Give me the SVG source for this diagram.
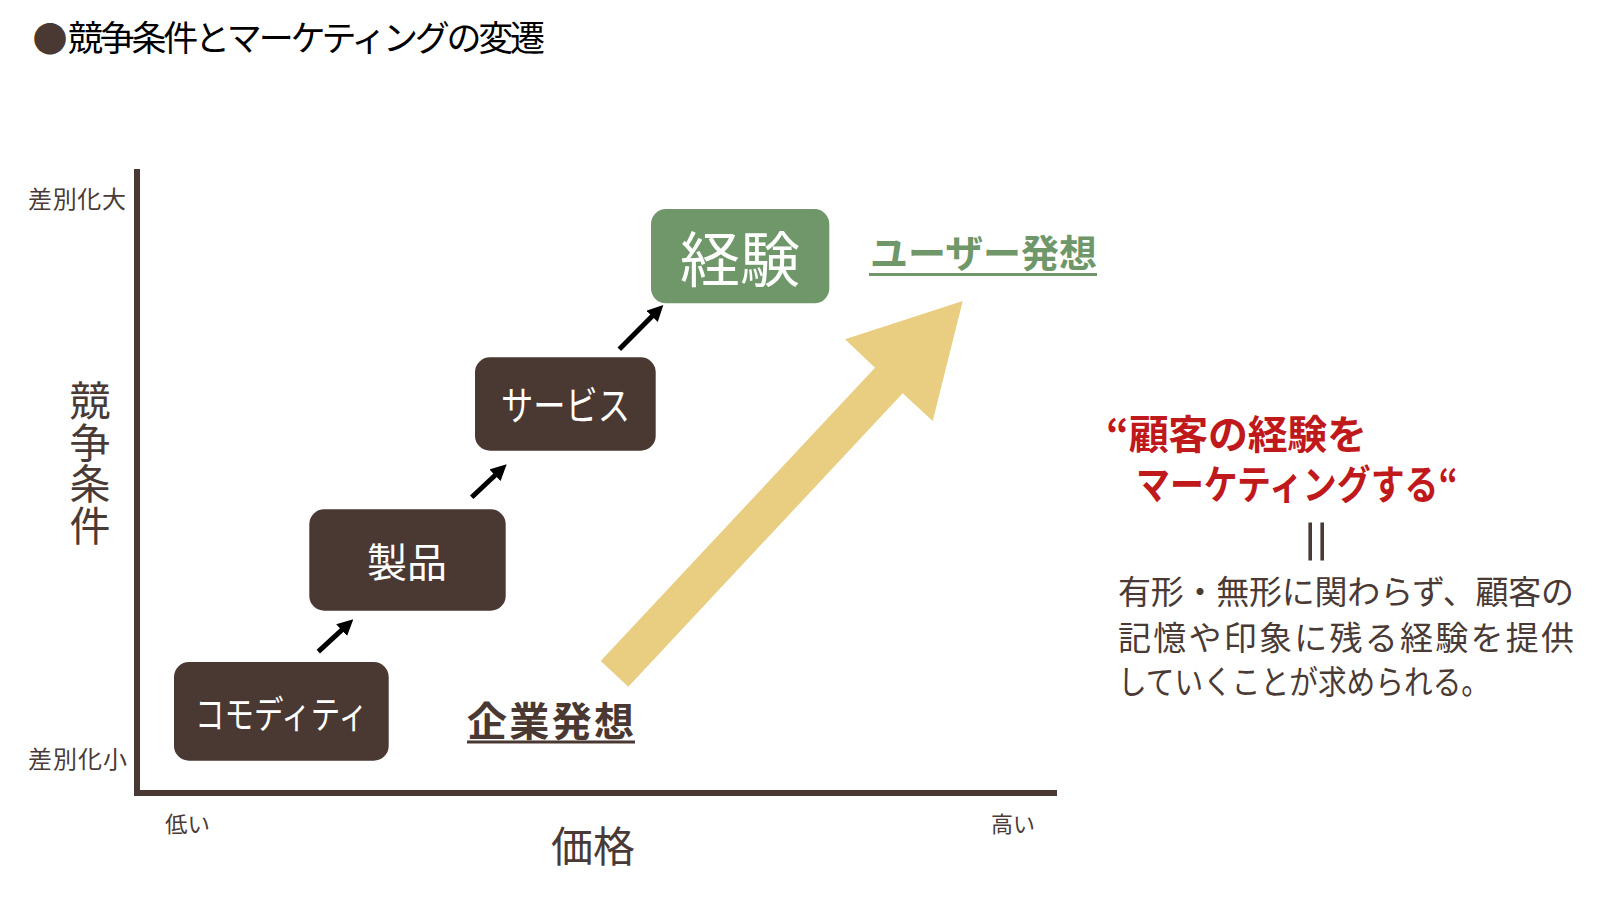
<svg xmlns="http://www.w3.org/2000/svg" width="1611" height="897" viewBox="0 0 1611 897">
  <style>
    text { font-family: "Noto Sans CJK JP", "Noto Sans", sans-serif; }
    .lbl { fill: #4a3a35; }
    .node { fill: #4a3832; }
    .ntext { fill: #ffffff; text-anchor: middle; }
    .bold { font-weight: 700; }
    .arrow { stroke: #000000; stroke-width: 5; fill: none; marker-end: url(#head); }
  </style>
  <defs>
    <marker id="head" viewBox="0 0 16 16" refX="6" refY="8" markerWidth="16" markerHeight="16" markerUnits="userSpaceOnUse" orient="auto">
      <path d="M0,0 L16,8 L0,16 z" fill="#000000"/>
    </marker>
  </defs>
  <rect width="1611" height="897" fill="#ffffff"/>

  <!-- title -->
  <g id="title">
    <text x="50" y="51.5" font-size="35" fill="#4a3832" text-anchor="middle">●</text>
    <text x="68" y="51" font-size="35" fill="#000000" textLength="477" lengthAdjust="spacing">競争条件とマーケティングの変遷</text>
  </g>

  <!-- axes -->
  <g id="axes">
    <path d="M137,169 V793 H1057" stroke="#4a3832" stroke-width="6" fill="none" stroke-linejoin="miter"/>
    <text class="lbl" x="28" y="207.5" font-size="24" textLength="98" lengthAdjust="spacing">差別化大</text>
    <text class="lbl" x="28" y="768" font-size="24" textLength="99" lengthAdjust="spacing">差別化小</text>
    <text class="lbl" x="165" y="831.5" font-size="22" textLength="45" lengthAdjust="spacingAndGlyphs">低い</text>
    <text class="lbl" x="991" y="831.5" font-size="22" textLength="44" lengthAdjust="spacingAndGlyphs">高い</text>
    <text class="lbl" x="593" y="862" font-size="42" text-anchor="middle">価格</text>
    <text class="lbl" x="90" y="380" font-size="41" style="writing-mode: vertical-rl;" letter-spacing="0.5">競争条件</text>
  </g>

  <!-- big arrow -->
  <g id="big-arrow">
    <polygon points="600.7,661 628.3,686.7 902.7,393.3 932.7,421 962.7,301 845,339.3 875,367.7" fill="#e9cd80"/>
  </g>

  <!-- connectors -->
  <g id="connectors">
    <line class="arrow" x1="318.3" y1="651.7" x2="346" y2="626.1"/>
    <line class="arrow" x1="471.7" y1="497.3" x2="499.4" y2="471.2"/>
    <line class="arrow" x1="619.3" y1="349.3" x2="656.3" y2="312.1"/>
  </g>

  <!-- nodes -->
  <g id="node-commodity">
    <rect class="node" x="174" y="662" width="214.7" height="98.7" rx="15"/>
    <text class="ntext" x="281.5" y="728" font-size="38" textLength="173" lengthAdjust="spacingAndGlyphs">コモディティ</text>
  </g>
  <g id="node-product">
    <rect class="node" x="309.3" y="509.3" width="196.4" height="101.4" rx="15"/>
    <text class="ntext" x="407" y="576.5" font-size="40">製品</text>
  </g>
  <g id="node-service">
    <rect class="node" x="475" y="357.3" width="180.7" height="93.4" rx="15"/>
    <text class="ntext" x="565.5" y="420" font-size="40" textLength="129" lengthAdjust="spacingAndGlyphs">サービス</text>
  </g>
  <g id="node-experience">
    <rect x="651" y="209" width="178.3" height="94.3" rx="15" fill="#6f976a"/>
    <text class="ntext" x="740" y="282" font-size="60">経験</text>
  </g>

  <!-- labels -->
  <g id="label-user">
    <text x="870" y="266.5" font-size="38" class="bold" fill="#6f976a" textLength="227" lengthAdjust="spacing">ユーザー発想</text>
    <rect x="869" y="273" width="228" height="3" fill="#6f976a"/>
  </g>
  <g id="label-company">
    <text x="467" y="735.5" font-size="40" class="bold" fill="#4a3832" textLength="167" lengthAdjust="spacing">企業発想</text>
    <rect x="467" y="740.5" width="168" height="3" fill="#4a3832"/>
  </g>

  <!-- right text -->
  <g id="message">
    <text x="1106" y="449" font-size="40" class="bold" fill="#c0191b" textLength="261" lengthAdjust="spacing">“顧客の経験を</text>
    <text x="1136" y="499" font-size="40" class="bold" fill="#c0191b" textLength="322" lengthAdjust="spacingAndGlyphs">マーケティングする“</text>
    <text transform="translate(1313.5,541.5) rotate(90)" x="0" y="18" font-size="52" fill="#4a3a35" text-anchor="middle">＝</text>
    <text class="lbl" x="1118" y="604" font-size="33" textLength="456" lengthAdjust="spacing">有形・無形に関わらず、顧客の</text>
    <text class="lbl" x="1118" y="650" font-size="33" textLength="456" lengthAdjust="spacing">記憶や印象に残る経験を提供</text>
    <text class="lbl" x="1118" y="694" font-size="33" textLength="372" lengthAdjust="spacingAndGlyphs">していくことが求められる。</text>
  </g>
</svg>
